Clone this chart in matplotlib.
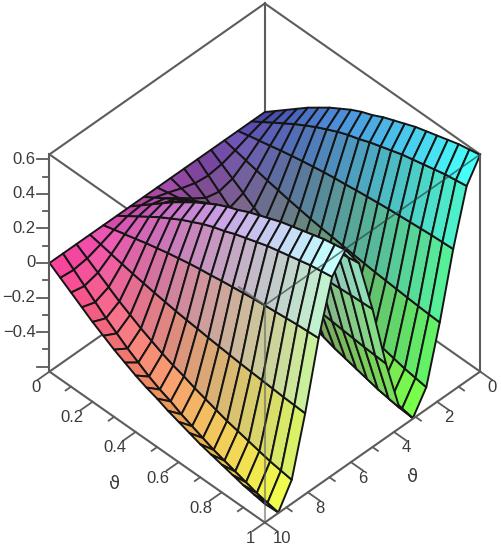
import numpy as np
import matplotlib
matplotlib.use("Agg")
import matplotlib.pyplot as plt
from mpl_toolkits.mplot3d import proj3d

plt.rcParams['font.family'] = ['Liberation Sans', 'DejaVu Sans']

# surface, 21 x 17 mesh lines
u_vals = np.array([0, 0.05, 0.1, 0.15, 0.2, 0.25, 0.3, 0.35, 0.4, 0.45, 0.5,
                   0.55, 0.6, 0.65, 0.7, 0.75, 0.8, 0.85, 0.9, 0.95, 1])
v_vals = np.array([0, 0.625, 1.25, 1.875, 2.5, 3.125, 3.75, 4.375, 5,
                   5.625, 6.25, 6.875, 7.5, 8.125, 8.75, 9.375, 10])
# height along the u=1 edge
edge_z = np.array([0.625, 0.50, 0.19, -0.18, -0.50, -0.625, -0.51, -0.20, 0.17,
                   0.49, 0.62, 0.52, 0.22, -0.16, -0.49, -0.625, -0.52])
# share of that height across u
u_share = np.array([0, 0.08, 0.16, 0.24, 0.32, 0.39, 0.46, 0.52, 0.58, 0.63, 0.67,
                    0.72, 0.76, 0.80, 0.84, 0.87, 0.90, 0.93, 0.96, 0.98, 1])

z_low, z_high = -0.628, 0.628
u_ticks = [0, 0.2, 0.4, 0.6, 0.8, 1]
u_labels = ['0', '0.2', '0.4', '0.6', '0.8', '1']
v_ticks = [0, 2, 4, 6, 8, 10]
v_labels = ['0', '2', '4', '6', '8', '10']
z_ticks = [0.6, 0.4, 0.2, 0, -0.2, -0.4]
z_labels = ['0.6', '0.4', '0.2', '0', '\u22120.2', '\u22120.4']

Z = np.outer(u_share, edge_z)
V, U = np.meshgrid(v_vals, u_vals)

fig = plt.figure(figsize=(5.02, 5.5), dpi=100)
ax = fig.add_axes([0.014, 0.0095, 1, 1], projection='3d', proj_type='ortho', computed_zorder=False)
ax.set_xlim(0, 10)
ax.set_ylim(0, 1)
ax.set_zlim(z_low, z_high)
ax.set_box_aspect((1, 1, 1), zoom=1.02)
ax.view_init(elev=44.5, azim=45)
ax.set_axis_off()

# colour follows position: red with v, green with u, blue with height
def cell_mean(a):
    return (a[:-1, :-1] + a[1:, :-1] + a[:-1, 1:] + a[1:, 1:]) / 4

red = cell_mean(V) / 10
green = cell_mean(U)
Z_box = (Z - z_low) / (z_high - z_low)
blue = cell_mean(Z_box)
base = np.dstack([0.22 + 0.74 * red, 0.22 + 0.74 * green, 0.22 + 0.74 * blue])

# simple lighting from above, a bit towards the viewer
dz_v = (Z_box[:-1, 1:] + Z_box[1:, 1:] - Z_box[:-1, :-1] - Z_box[1:, :-1]) / 2 / (v_vals[1] / 10)
dz_u = (Z_box[1:, :-1] + Z_box[1:, 1:] - Z_box[:-1, :-1] - Z_box[:-1, 1:]) / 2 / u_vals[1]
normal = np.dstack([-dz_v, -dz_u, np.ones_like(dz_u)])
normal /= np.linalg.norm(normal, axis=2, keepdims=True)
light = np.array([0.35, 0, 1]) / np.hypot(0.35, 1)
diffuse = np.clip(normal @ light, 0, 1)[..., None]
colors = np.clip(base * (0.92 + 0.14 * diffuse) + 0.08 * diffuse ** 4, 0, 1)

box_color = '#5c5c5c'

def edge(p, q, zorder, color=box_color, alpha=1.0, lw=1.5):
    ax.plot([p[0], q[0]], [p[1], q[1]], [p[2], q[2]], color=color, alpha=alpha, lw=lw,
            zorder=zorder, clip_on=False)

# box edges behind the surface
edge((10, 0, z_high), (0, 0, z_high), 1)
edge((0, 0, z_high), (0, 1, z_high), 1)
edge((0, 0, z_high), (0, 0, z_low), 1)
edge((10, 0, z_low), (0, 0, z_low), 1)
edge((0, 0, z_low), (0, 1, z_low), 1)
edge((10, 0, z_high), (10, 0.36, z_high), 1)

ax.plot_surface(V, U, Z, facecolors=colors, shade=False, rstride=1, cstride=1,
                edgecolor='#151515', linewidth=1.4, antialiased=True, zorder=2, clip_on=False)

# box edges in front
edge((10, 0, z_low), (10, 0, z_high), 3)
edge((0, 1, z_low), (0, 1, z_high), 3)
edge((10, 0, z_low), (10, 1, z_low), 3)
edge((10, 1, z_low), (0, 1, z_low), 3)
edge((10, 0.88, z_high), (10, 1, z_high), 3, alpha=0.7)
edge((10, 1, z_high), (0, 1, z_high), 3, color='#243b3b', alpha=0.65, lw=1.2)
edge((10, 1, z_high), (10, 1, z_low), 3, color='#5c5c5c', alpha=0.55)

# ticks
for t in np.arange(0, 1.01, 0.1):
    major = round(t * 10) % 2 == 0
    edge((10, t, z_low), (10.56 if major else 10.25, t, z_low), 3, lw=1.3)
for t in np.arange(0, 10.01, 1):
    major = round(t) % 2 == 0
    edge((t, 1, z_low), (t, 1.056 if major else 1.025, z_low), 3, lw=1.3)
for t in np.arange(-0.6, 0.61, 0.1):
    major = round(t * 10) % 2 == 0
    d = 0.029 if major else 0.014
    edge((10, 0, t), (10 + d * 10, -d, t), 3, lw=1.3)

M = ax.get_proj()

def label(text, x, y, z, dx, dy, ha='center', **kw):
    px, py, _ = proj3d.proj_transform(x, y, z, M)
    ax.annotate(text, xy=(px, py), xytext=(dx, dy), textcoords='offset pixels', ha=ha, va='center',
                annotation_clip=False, color='#3a3a3a', fontsize=kw.pop('fontsize', 12), zorder=5, **kw)

for t, s, dx in zip(u_ticks, u_labels, [-13, -21, -21, -21, -21, -14]):
    label(s, 10, t, z_low, dx, -16)
for t, s, dx in zip(v_ticks, v_labels, [12, 12, 12, 12, 12, 17]):
    label(s, t, 1, z_low, dx, -16)
for t, s in zip(z_ticks, z_labels):
    label(s, 10, 0, t, -14, 0, ha='right')

label('\u03d1', 10, 0.5, z_low, -43, -37, fontsize=13, family=['DejaVu Sans'])
label('\u03d1', 5, 1, z_low, 40, -30, fontsize=13, family=['DejaVu Sans'])

fig.savefig('out.png', dpi=100)
